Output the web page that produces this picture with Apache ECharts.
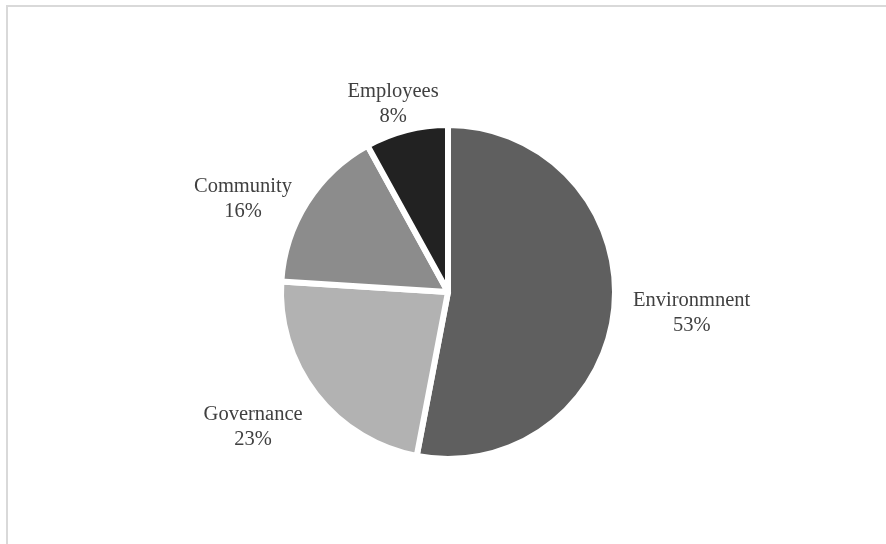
<!DOCTYPE html>
<html>
<head>
<meta charset="utf-8">
<style>
html,body{margin:0;padding:0;background:#fff;}
#chart{width:886px;height:544px;}
</style>
<script src="https://cdn.jsdelivr.net/npm/echarts@6/dist/echarts.min.js"></script>
</head>
<body>
<div id="chart"></div>
<script>
// Data
var categories = ['Environmnent', 'Governance', 'Community', 'Employees'];
var shares = [53, 23, 16, 8];

// Styles
var sliceColors = ['#5f5f5f', '#b2b2b2', '#8c8c8c', '#222222'];
var labelGaps = [16, 13, 17, -3];
var labelNudges = [[4, -2], [-12, -7], [-6, 33], [-6, 2]];
var CX = 448, CY = 292, R = 167;

var total = shares.reduce(function (a, b) { return a + b; }, 0);

var chart = echarts.init(document.getElementById('chart'), null, {renderer: 'canvas'});

chart.setOption({
  backgroundColor: '#ffffff',
  animation: false,
  graphic: [{
    type: 'rect',
    shape: {x: 7, y: 6, width: 900, height: 600},
    style: {fill: 'none', stroke: '#d9d9d9', lineWidth: 2},
    silent: true
  }],
  series: [{
    type: 'pie',
    center: [CX, CY],
    radius: [0, R],
    startAngle: 90,
    clockwise: true,
    silent: true,
    itemStyle: {borderColor: '#ffffff', borderWidth: 6},
    label: {
      show: true,
      position: 'outside',
      formatter: '{b}\n{c}%',
      fontFamily: 'Liberation Serif',
      fontSize: 20.5,
      lineHeight: 25,
      color: '#404040',
      align: 'center'
    },
    labelLine: {show: false},
    labelLayout: function (params) {
      var i = params.dataIndex;
      var before = 0;
      for (var k = 0; k < i; k++) before += shares[k];
      var mid = (before + shares[i] / 2) / total * Math.PI * 2;
      var ux = Math.sin(mid), uy = -Math.cos(mid);
      var w = params.labelRect.width / 2, h = params.labelRect.height / 2;
      var d = (R - 3) + labelGaps[i] + Math.abs(ux) * w + Math.abs(uy) * h;
      return {
        x: CX + ux * d + labelNudges[i][0],
        y: CY + uy * d + labelNudges[i][1],
        align: 'center',
        verticalAlign: 'middle'
      };
    },
    data: categories.map(function (c, i) {
      return {name: c, value: shares[i], itemStyle: {color: sliceColors[i]}};
    })
  }]
});
</script>
</body>
</html>
